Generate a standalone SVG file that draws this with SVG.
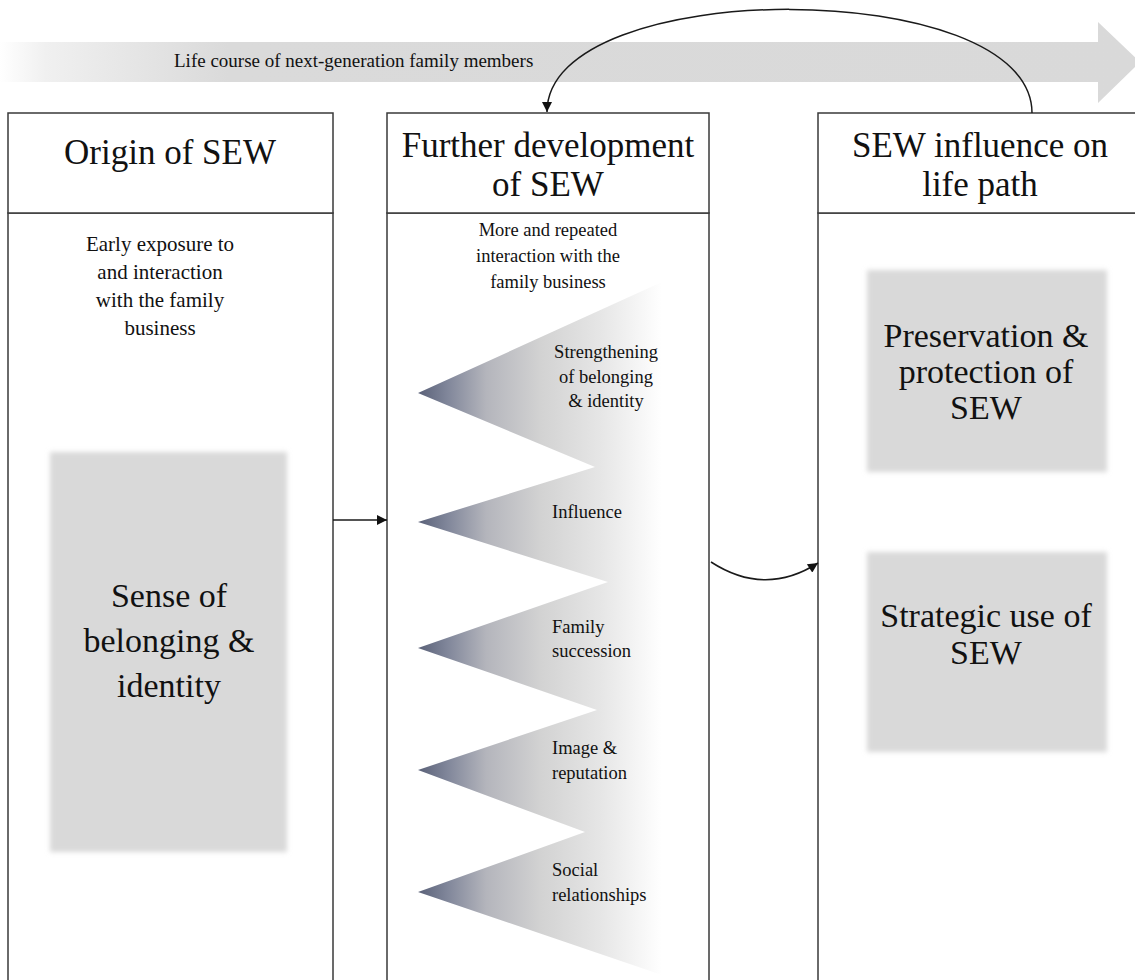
<svg xmlns="http://www.w3.org/2000/svg" width="1135" height="980" viewBox="0 0 1135 980">
<defs>
  <linearGradient id="bandGrad" gradientUnits="userSpaceOnUse" x1="0" y1="0" x2="1140" y2="0">
    <stop offset="0" stop-color="#ffffff"/>
    <stop offset="0.04" stop-color="#f0f0f0"/>
    <stop offset="0.2" stop-color="#dadada"/>
    <stop offset="1" stop-color="#d9d9d9"/>
  </linearGradient>
  <linearGradient id="zigGrad" gradientUnits="userSpaceOnUse" x1="418" y1="0" x2="662" y2="0">
    <stop offset="0" stop-color="#5a6178"/>
    <stop offset="0.12" stop-color="#80869a"/>
    <stop offset="0.28" stop-color="#b4b5bc"/>
    <stop offset="0.5" stop-color="#d2d2d2"/>
    <stop offset="0.75" stop-color="#e6e6e6"/>
    <stop offset="1" stop-color="#ffffff"/>
  </linearGradient>
  <filter id="soft" x="-5%" y="-5%" width="110%" height="110%">
    <feGaussianBlur stdDeviation="2.5"/>
  </filter>
  <marker id="arrow" viewBox="0 0 10 10" refX="10" refY="5" markerWidth="11" markerHeight="10" markerUnits="userSpaceOnUse" orient="auto">
    <path d="M0,0 L10,5 L0,10 Z" fill="#111"/>
  </marker>
</defs>
<style>
  .box{fill:#ffffff;stroke:#3a3a3a;stroke-width:1.5}
  .grey{fill:#d9d9d9}
  .t{font-family:"Liberation Serif","Times New Roman",serif;fill:#111;text-anchor:middle}
  .hdr{font-size:35px}
  .big{font-size:34px}
  .body{font-size:21px}
  .small{font-size:18.5px}
  .left{text-anchor:start}
  .conn{fill:none;stroke:#1a1a1a;stroke-width:1.5}
</style>

<g id="timeline">
  <polygon points="0,42 1098,42 1098,22 1140,62 1098,103 1098,82 0,82" fill="url(#bandGrad)"/>
  <text class="t small left" x="174" y="67" style="font-size:19px">Life course of next-generation family members</text>
</g>

<g id="origin">
  <rect class="box" x="8" y="213" width="325" height="790"/>
  <rect class="box" x="8" y="113" width="325" height="100"/>
  <text class="t hdr" x="170" y="164">Origin of SEW</text>
  <text class="t body" x="160" y="251">Early exposure to</text>
  <text class="t body" x="160" y="279">and interaction</text>
  <text class="t body" x="160" y="307">with the family</text>
  <text class="t body" x="160" y="335">business</text>
</g>

<g id="sense-of-belonging">
  <rect class="grey" x="50" y="452" width="237" height="400" filter="url(#soft)"/>
  <text class="t big" x="169" y="607">Sense of</text>
  <text class="t big" x="169" y="652">belonging &amp;</text>
  <text class="t big" x="169" y="697">identity</text>
</g>

<g id="further">
  <rect class="box" x="387" y="213" width="322" height="790"/>
  <rect class="box" x="387" y="113" width="322" height="100"/>
  <text class="t hdr" x="548" y="157">Further development</text>
  <text class="t hdr" x="548" y="196">of SEW</text>
  <text class="t small" x="548" y="236">More and repeated</text>
  <text class="t small" x="548" y="262">interaction with the</text>
  <text class="t small" x="548" y="288">family business</text>
</g>

<g id="dimensions">
  <polygon points="662,282 418,393 595,467 418,522 608,582 418,648 597,710 418,770 585,832 418,892 662,975" fill="url(#zigGrad)"/>
  <text class="t small" x="606" y="358">Strengthening</text>
  <text class="t small" x="606" y="383">of belonging</text>
  <text class="t small" x="606" y="407">&amp; identity</text>
  <text class="t small left" x="552" y="518">Influence</text>
  <text class="t small left" x="552" y="633">Family</text>
  <text class="t small left" x="552" y="657">succession</text>
  <text class="t small left" x="552" y="754">Image &amp;</text>
  <text class="t small left" x="552" y="779">reputation</text>
  <text class="t small left" x="552" y="876">Social</text>
  <text class="t small left" x="552" y="901">relationships</text>
</g>

<g id="influence">
  <rect class="box" x="818" y="213" width="325" height="790"/>
  <rect class="box" x="818" y="113" width="325" height="100"/>
  <text class="t hdr" x="980" y="157">SEW influence on</text>
  <text class="t hdr" x="980" y="196">life path</text>
</g>

<g id="preservation">
  <rect class="grey" x="867" y="270" width="240" height="202" filter="url(#soft)"/>
  <text class="t big" x="986" y="347">Preservation &amp;</text>
  <text class="t big" x="986" y="383">protection of</text>
  <text class="t big" x="986" y="419">SEW</text>
</g>

<g id="strategic">
  <rect class="grey" x="867" y="552" width="240" height="200" filter="url(#soft)"/>
  <text class="t big" x="986" y="627">Strategic use of</text>
  <text class="t big" x="986" y="664">SEW</text>
</g>

<g id="connectors">
  <path class="conn" d="M333,520 L387,520" marker-end="url(#arrow)"/>
  <path class="conn" d="M711,562 Q765,597 818,563" marker-end="url(#arrow)"/>
  <path class="conn" d="M1032,113 C1032,-25 547,-25 547,112" marker-end="url(#arrow)"/>
</g>
</svg>
